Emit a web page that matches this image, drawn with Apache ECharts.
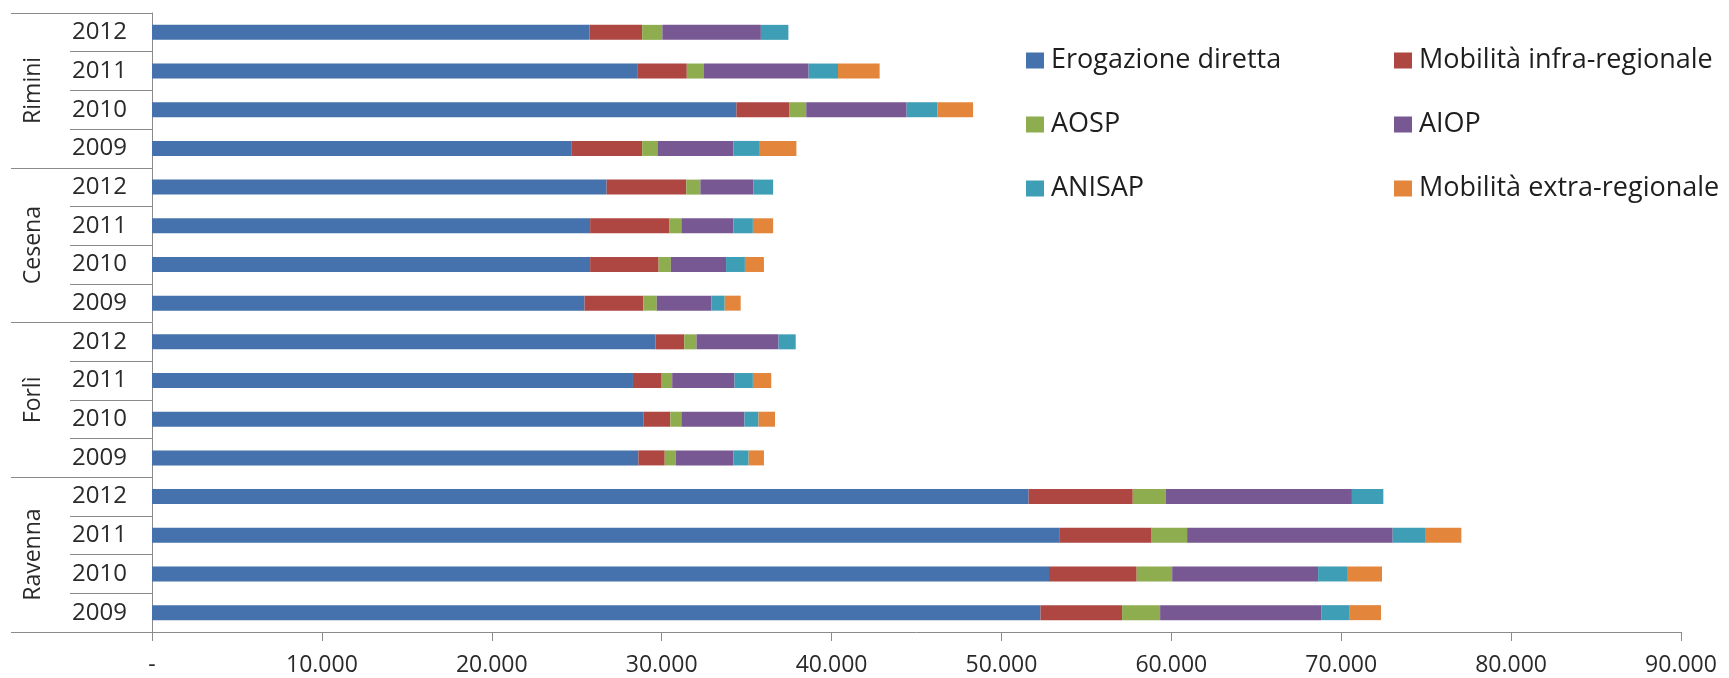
<!DOCTYPE html>
<html>
<head>
<meta charset="utf-8">
<script src="https://cdn.jsdelivr.net/npm/echarts@6/dist/echarts.min.js"></script>
<style>
  html, body { margin: 0; padding: 0; background: #fff; }
  #chart { width: 1729px; height: 678px; }
</style>
</head>
<body>
<div id="chart"></div>
<script>
// Areas (bottom to top) and the years shown for each area
const areas = ['Ravenna', 'Forlì', 'Cesena', 'Rimini'];
const years = ['2009', '2010', '2011', '2012'];

// Values per row, ordered Ravenna 2009..2012, Forlì 2009..2012, Cesena 2009..2012, Rimini 2009..2012
const erogazioneDiretta = [52300, 52800, 53400, 51600, 28630, 28920, 28310, 29640, 25460, 25790, 25790, 26760, 24710, 34400, 28560, 25750];
const mobilitaInfra     = [4800, 5160, 5440, 6130, 1550, 1590, 1690, 1690, 3460, 4030, 4650, 4690, 4140, 3100, 2920, 3100];
const aosp              = [2240, 2090, 2090, 1950, 650, 650, 620, 720, 790, 720, 720, 830, 900, 1010, 1010, 1190];
const aiop              = [9480, 8590, 12100, 10950, 3390, 3710, 3670, 4830, 3210, 3250, 3060, 3130, 4470, 5910, 6160, 5800];
const anisap            = [1640, 1700, 1950, 1850, 900, 830, 1080, 1010, 790, 1110, 1150, 1150, 1510, 1800, 1730, 1620];
const mobilitaExtra     = [1880, 2060, 2090, 0, 900, 970, 1080, 0, 940, 1120, 1190, 0, 2200, 2110, 2450, 0];

const seriesNames = ['Erogazione diretta', 'Mobilità infra-regionale', 'AOSP', 'AIOP', 'ANISAP', 'Mobilità extra-regionale'];
const seriesValues = [erogazioneDiretta, mobilitaInfra, aosp, aiop, anisap, mobilitaExtra];
const colors = ['#4572AC', '#AE4642', '#8DAD4E', '#775892', '#3E9EB6', '#E3863B'];

// X axis tick values
const xMin = 0, xMax = 90000, xStep = 10000;

const rowLabels = [];
areas.forEach(() => years.forEach(y => rowLabels.push(y)));

function fmtThousands(v) {
  if (v === 0) return '-';
  return String(v).replace(/\B(?=(\d{3})+(?!\d))/g, '.');
}

const FONT = 'Open Sans';
const AXIS_GREY = '#8a8a8a';

const chart = echarts.init(document.getElementById('chart'), null, { renderer: 'canvas' });

chart.setOption({
  animation: false,
  color: colors,
  textStyle: { fontFamily: FONT },
  grid: { left: 152, right: 48, top: 13, bottom: 46, containLabel: false },
  legend: [
    {
      data: [seriesNames[0], seriesNames[2], seriesNames[4]],
      orient: 'vertical', left: 1021, top: 42, itemGap: 37,
      itemWidth: 18, itemHeight: 16, icon: 'rect',
      textStyle: { fontFamily: FONT, fontSize: 27, color: '#1e1e1e', padding: [0, 0, 0, 2] }
    },
    {
      data: [seriesNames[1], seriesNames[3], seriesNames[5]],
      orient: 'vertical', left: 1389, top: 42, itemGap: 37,
      itemWidth: 18, itemHeight: 16, icon: 'rect',
      textStyle: { fontFamily: FONT, fontSize: 27, color: '#1e1e1e', padding: [0, 0, 0, 2] }
    }
  ],
  xAxis: {
    type: 'value', min: xMin, max: xMax, interval: xStep,
    axisLine: { show: true, lineStyle: { color: AXIS_GREY, width: 1 } },
    axisTick: { show: true, length: 9, lineStyle: { color: AXIS_GREY } },
    splitLine: { show: false },
    axisLabel: { formatter: fmtThousands, fontFamily: FONT, fontSize: 23, color: '#2a2a2a', margin: 22 }
  },
  yAxis: [
    {
      type: 'category', data: rowLabels, position: 'left',
      axisLine: { show: true, lineStyle: { color: AXIS_GREY } },
      axisTick: { show: true, length: 82, lineStyle: { color: AXIS_GREY } },
      axisLabel: { fontFamily: FONT, fontSize: 24, color: '#2a2a2a', margin: 25 }
    },
    {
      type: 'category', data: areas, position: 'left', offset: 0,
      axisLine: { show: false },
      axisTick: { show: true, length: 141, lineStyle: { color: AXIS_GREY } },
      axisLabel: { rotate: 90, fontFamily: FONT, fontSize: 23, color: '#2a2a2a', margin: 107 }
    }
  ],
  series: seriesNames.map((name, i) => ({
    name, type: 'bar', stack: 'total', yAxisIndex: 0,
    barWidth: 15,
    data: seriesValues[i],
    itemStyle: { color: colors[i] }
  }))
});
</script>
</body>
</html>
